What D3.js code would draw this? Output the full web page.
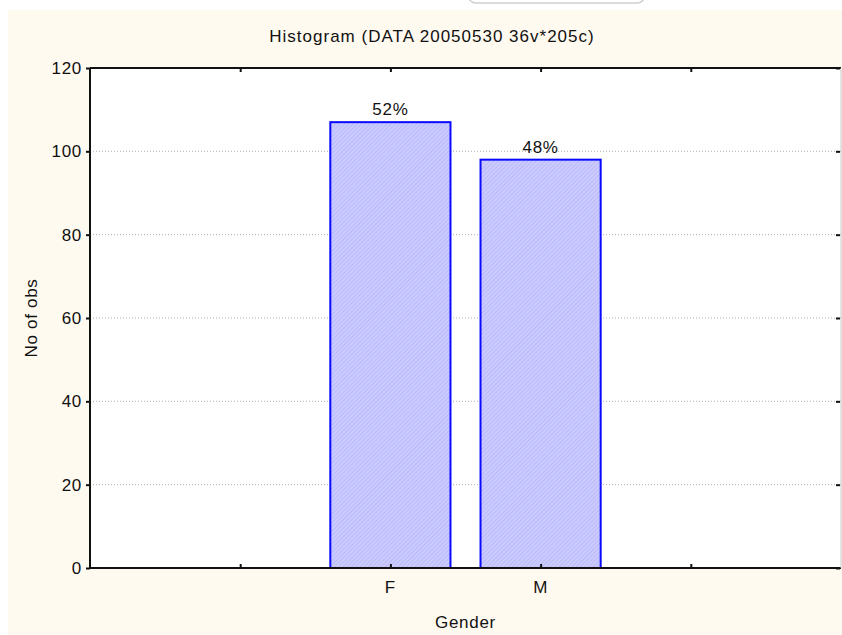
<!DOCTYPE html>
<html>
<head>
<meta charset="utf-8">
<script src="https://cdn.jsdelivr.net/npm/d3@7/dist/d3.min.js"></script>
<style>
  html, body { margin: 0; padding: 0; background: #fff; }
  svg { display: block; }
  text { font-family: "Liberation Sans", Arial, sans-serif; font-size: 17px; fill: #111; letter-spacing: 0.7px; }
</style>
</head>
<body>
<svg id="chart" width="842" height="635"></svg>
<script>
// Data
const categories = ['F', 'M'];
const counts = [107, 98];
const percentLabels = ['52%', '48%'];
const yTicks = [0, 20, 40, 60, 80, 100, 120];
const xTickSlots = [1, 2, 3, 4];
const categorySlots = [2, 3];

const W = 842, H = 635;
const margin = { left: 90, top: 68, right: 1, bottom: 67 };
const plotW = W - margin.left - margin.right;
const plotH = H - margin.top - margin.bottom;

const svg = d3.select('#chart');

// Hatch pattern for bars
const defs = svg.append('defs');
const pat = defs.append('pattern')
  .attr('id', 'hatch')
  .attr('patternUnits', 'userSpaceOnUse')
  .attr('width', 3)
  .attr('height', 3)
  .attr('patternTransform', 'rotate(45)');
pat.append('rect').attr('width', 3).attr('height', 3).attr('fill', '#cbcbff');
pat.append('line').attr('x1', 0).attr('y1', 0).attr('x2', 0).attr('y2', 3)
  .attr('stroke', '#adadf6').attr('stroke-width', 1.1);

// Window-chrome fragment at top
svg.append('rect')
  .attr('x', 468).attr('y', -20).attr('width', 177).attr('height', 23)
  .attr('rx', 8)
  .attr('fill', '#fff').attr('stroke', '#cfcfcf').attr('stroke-width', 1.5);

// Cream graph background
svg.append('rect')
  .attr('x', 8).attr('y', 10).attr('width', W - 8).attr('height', H - 10)
  .attr('fill', '#fffaef');

const g = svg.append('g').attr('transform', `translate(${margin.left},${margin.top})`);

// Plot area
g.append('rect').attr('width', plotW).attr('height', plotH).attr('fill', '#fff');

// Scales
const x = d3.scaleLinear().domain([0, 5]).range([0, plotW]);
const y = d3.scaleLinear().domain([0, 120]).range([plotH, 0]);

// Gridlines
g.append('g')
  .selectAll('line')
  .data(yTicks.filter(t => t > 0 && t < 120))
  .join('line')
  .attr('x1', 0).attr('x2', plotW)
  .attr('y1', d => y(d)).attr('y2', d => y(d))
  .attr('stroke', '#b0b0b0')
  .attr('stroke-width', 1)
  .attr('stroke-dasharray', '1,2');

// Bars
const bars = categories.map((c, i) => ({ cat: c, slot: categorySlots[i], n: counts[i], pct: percentLabels[i] }));
const barW = x(0.8) - x(0);

g.append('g')
  .selectAll('rect')
  .data(bars)
  .join('rect')
  .attr('x', d => x(d.slot) - barW / 2)
  .attr('y', d => y(d.n))
  .attr('width', barW)
  .attr('height', d => y(0) - y(d.n))
  .attr('fill', 'url(#hatch)')
  .attr('stroke', '#0a0aff')
  .attr('stroke-width', 2);

g.append('g')
  .selectAll('text')
  .data(bars)
  .join('text')
  .attr('x', d => x(d.slot))
  .attr('y', d => y(d.n) - 7)
  .attr('text-anchor', 'middle')
  .text(d => d.pct);

// Axes
const yAxisL = d3.axisLeft(y).tickValues(yTicks).tickSize(4).tickPadding(4);
const yAxisR = d3.axisLeft(y).tickValues(yTicks).tickSize(4).tickFormat('');
const xAxisB = d3.axisTop(x).tickValues(xTickSlots).tickSize(4).tickFormat('');
const xAxisT = d3.axisBottom(x).tickValues(xTickSlots).tickSize(4).tickFormat('');

function styleAxis(sel) {
  sel.select('.domain').remove();
  sel.selectAll('.tick line').attr('stroke', '#111').attr('stroke-width', 2);
  sel.selectAll('.tick text').style('font-size', '17px').attr('fill', '#111');
}

g.append('g').call(yAxisL).call(styleAxis);
g.append('g').attr('transform', `translate(${plotW - 1},0)`).call(yAxisR).call(styleAxis)
  .selectAll('.tick line').attr('x2', -4);
g.append('g').attr('transform', `translate(0,${plotH})`).call(xAxisB).call(styleAxis);
g.append('g').call(xAxisT).call(styleAxis);

// Category labels under axis
g.append('g')
  .selectAll('text')
  .data(bars)
  .join('text')
  .attr('x', d => x(d.slot))
  .attr('y', plotH + 25)
  .attr('text-anchor', 'middle')
  .text(d => d.cat);

// Frame
g.append('line').attr('x1', 0).attr('x2', plotW).attr('y1', 0).attr('y2', 0)
  .attr('stroke', '#111').attr('stroke-width', 2);
g.append('line').attr('x1', 0).attr('x2', plotW).attr('y1', plotH).attr('y2', plotH)
  .attr('stroke', '#111').attr('stroke-width', 2);
g.append('line').attr('x1', 0).attr('x2', 0).attr('y1', 0).attr('y2', plotH)
  .attr('stroke', '#111').attr('stroke-width', 2);
g.append('line').attr('x1', plotW).attr('x2', plotW).attr('y1', 0).attr('y2', plotH)
  .attr('stroke', '#c8c8c8').attr('stroke-width', 1);

// Titles
svg.append('text')
  .attr('x', 432).attr('y', 42)
  .attr('text-anchor', 'middle')
  .style('letter-spacing', '1px')
  .text('Histogram (DATA 20050530 36v*205c)');

svg.append('text')
  .attr('x', margin.left + plotW / 2).attr('y', 628)
  .attr('text-anchor', 'middle')
  .text('Gender');

svg.append('text')
  .attr('transform', `translate(37,${margin.top + plotH / 2}) rotate(-90)`)
  .attr('text-anchor', 'middle')
  .text('No of obs');
</script>
</body>
</html>
